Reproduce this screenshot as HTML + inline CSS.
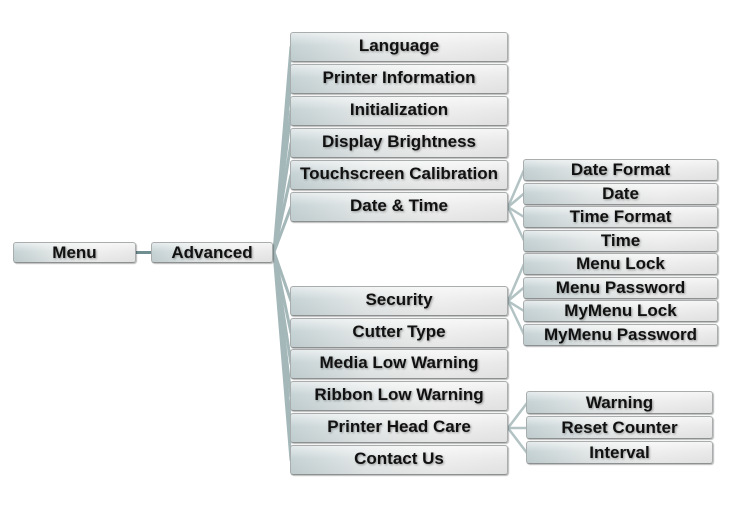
<!DOCTYPE html>
<html>
<head>
<meta charset="utf-8">
<style>
html,body{margin:0;padding:0;background:#fff;}
body{width:729px;height:510px;position:relative;overflow:hidden;font-family:"Liberation Sans",Arial,sans-serif;}
.b{position:absolute;box-sizing:border-box;border:1px solid #a9adad;border-bottom-color:#8c9090;border-radius:3px;
background:linear-gradient(to bottom,rgba(255,255,255,0.55) 0%,rgba(255,255,255,0) 45%,rgba(0,0,0,0.04) 100%),linear-gradient(to right,#c6d3d5 0%,#e4e8e8 35%,#efefef 70%,#e9e9e9 100%);
box-shadow:1px 1px 1px rgba(0,0,0,0.28);
font-weight:bold;font-size:17px;color:#111;text-align:center;text-shadow:1px 1px 2px rgba(0,0,0,0.35);white-space:nowrap;}
.l2{left:290px;width:218px;height:30px;line-height:26px;}
.l3{left:523px;width:195px;height:22px;line-height:20px;}
.l4{left:526px;width:187px;height:23px;line-height:21px;}
svg{position:absolute;left:0;top:0;}
</style>
</head>
<body>
<svg width="729" height="510" viewBox="0 0 729 510">
<g stroke="#a4b7b9" stroke-width="3" fill="none" stroke-linecap="round">
<line x1="274" y1="252" x2="291" y2="47"/>
<line x1="274" y1="252" x2="291" y2="79"/>
<line x1="274" y1="252" x2="291" y2="111"/>
<line x1="274" y1="252" x2="291" y2="143"/>
<line x1="274" y1="252" x2="291" y2="175"/>
<line x1="274" y1="252" x2="291" y2="207"/>
<line x1="274" y1="252" x2="291" y2="301"/>
<line x1="274" y1="252" x2="291" y2="333"/>
<line x1="274" y1="252" x2="291" y2="364"/>
<line x1="274" y1="252" x2="291" y2="396"/>
<line x1="274" y1="252" x2="291" y2="428"/>
<line x1="274" y1="252" x2="291" y2="460"/>
</g>
<g stroke="#b3c3c4" stroke-width="2.5" fill="none" stroke-linecap="round">
<line x1="508" y1="207" x2="524" y2="170"/>
<line x1="508" y1="207" x2="524" y2="193.5"/>
<line x1="508" y1="207" x2="524" y2="217"/>
<line x1="508" y1="207" x2="524" y2="240.5"/>
<line x1="508" y1="301" x2="524" y2="264"/>
<line x1="508" y1="301" x2="524" y2="287.5"/>
<line x1="508" y1="301" x2="524" y2="311"/>
<line x1="508" y1="301" x2="524" y2="334.5"/>
<line x1="508" y1="428" x2="527" y2="403"/>
<line x1="508" y1="428" x2="527" y2="428"/>
<line x1="508" y1="428" x2="527" y2="453"/>
</g>
<line x1="136" y1="252.5" x2="151" y2="252.5" stroke="#6f8e92" stroke-width="3"/>
</svg>

<div class="b" style="left:13px;top:242px;width:123px;height:21px;line-height:19px;">Menu</div>
<div class="b" style="left:151px;top:242px;width:122px;height:21px;line-height:19px;">Advanced</div>

<div class="b l2" style="top:32px;">Language</div>
<div class="b l2" style="top:64px;">Printer Information</div>
<div class="b l2" style="top:96px;">Initialization</div>
<div class="b l2" style="top:128px;">Display Brightness</div>
<div class="b l2" style="top:160px;">Touchscreen Calibration</div>
<div class="b l2" style="top:192px;">Date &amp; Time</div>
<div class="b l2" style="top:286px;">Security</div>
<div class="b l2" style="top:318px;">Cutter Type</div>
<div class="b l2" style="top:349px;">Media Low Warning</div>
<div class="b l2" style="top:381px;">Ribbon Low Warning</div>
<div class="b l2" style="top:413px;">Printer Head Care</div>
<div class="b l2" style="top:445px;">Contact Us</div>

<div class="b l3" style="top:159px;">Date Format</div>
<div class="b l3" style="top:182.5px;">Date</div>
<div class="b l3" style="top:206px;">Time Format</div>
<div class="b l3" style="top:229.5px;">Time</div>
<div class="b l3" style="top:253px;">Menu Lock</div>
<div class="b l3" style="top:276.5px;">Menu Password</div>
<div class="b l3" style="top:300px;">MyMenu Lock</div>
<div class="b l3" style="top:323.5px;">MyMenu Password</div>

<div class="b l4" style="top:391px;">Warning</div>
<div class="b l4" style="top:416px;">Reset Counter</div>
<div class="b l4" style="top:441px;">Interval</div>
</body>
</html>
